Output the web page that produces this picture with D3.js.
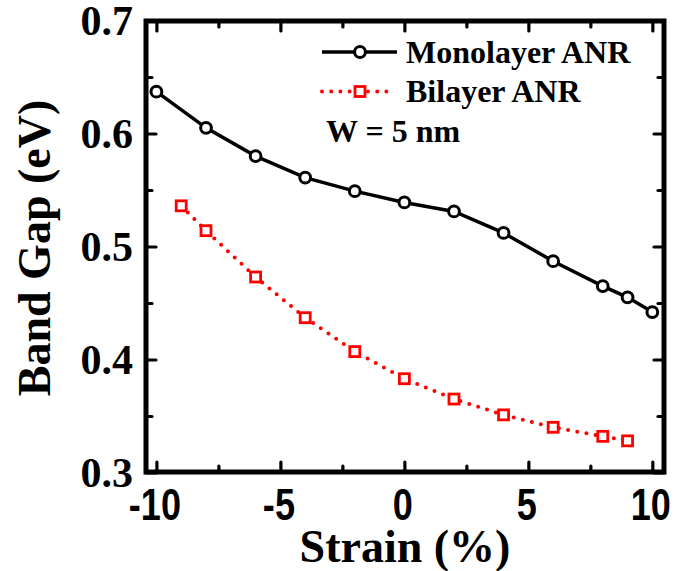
<!DOCTYPE html>
<html>
<head>
<meta charset="utf-8">
<script src="https://cdn.jsdelivr.net/npm/d3@7"></script>
<style>
  html, body { margin: 0; padding: 0; background: #fff; }
  svg { display: block; }
</style>
</head>
<body>
<svg id="chart" width="691" height="571"></svg>
<script>
// ---- data ----
const monoStrain = [-10, -8, -6, -4, -2, 0, 2, 4, 6, 8, 9, 10];
const monoGap    = [0.637, 0.605, 0.580, 0.561, 0.549, 0.539, 0.531, 0.512, 0.487, 0.465, 0.455, 0.442];
const biStrain   = [-9, -8, -6, -4, -2, 0, 2, 4, 6, 8, 9];
const biGap      = [0.536, 0.514, 0.473, 0.437, 0.407, 0.383, 0.365, 0.351, 0.340, 0.332, 0.328];
const xMajor = [-10, -5, 0, 5, 10];
const xMinor = [-7.5, -2.5, 2.5, 7.5];
const yMajor = [0.3, 0.4, 0.5, 0.6, 0.7];
const yMinor = [0.35, 0.45, 0.55, 0.65];
const seriesNames = ["Monolayer ANR", "Bilayer ANR"];
const note = "W = 5 nm";
const xTitle = "Strain (%)";
const yTitle = "Band Gap (eV)";

// ---- layout ----
const L = 146, R = 664, T = 21, B = 472;
const svg = d3.select("#chart");
const x = d3.scaleLinear().domain([-10.42, 10.47]).range([L, R]);
const y = d3.scaleLinear().domain([0.3, 0.7]).range([B + 0.5, T - 0.5]);

const serif = "'Liberation Serif', 'Times New Roman', serif";
const sans = "'Liberation Sans', Arial, sans-serif";

function styleAxis(g) {
  g.select(".domain").remove();
  g.selectAll(".tick line").attr("stroke", "#000").attr("stroke-width", 3.2).attr("stroke-linecap", "round");
}

// bottom major with labels
svg.append("g").attr("transform", `translate(0,${B})`)
  .call(d3.axisBottom(x).tickValues(xMajor).tickSize(-10).tickPadding(10).tickFormat(d3.format("d")))
  .call(styleAxis)
  .call(g => g.selectAll(".tick text")
    .attr("font-family", sans).attr("font-weight", "bold").attr("font-size", 44)
    .attr("fill", "#000").attr("y", 0).attr("dy", 0)
    .attr("transform", "translate(-2,48) scale(0.82,1)")
    .text(d => d < 0 ? "-" + Math.abs(d) : d));
svg.append("g").attr("transform", `translate(0,${B})`)
  .call(d3.axisBottom(x).tickValues(xMinor).tickSize(-6).tickFormat(""))
  .call(styleAxis);
// top
svg.append("g").attr("transform", `translate(0,${T})`)
  .call(d3.axisTop(x).tickValues(xMajor).tickSize(-10).tickFormat(""))
  .call(styleAxis);
svg.append("g").attr("transform", `translate(0,${T})`)
  .call(d3.axisTop(x).tickValues(xMinor).tickSize(-6).tickFormat(""))
  .call(styleAxis);
// left major with labels
svg.append("g").attr("transform", `translate(${L},0)`)
  .call(d3.axisLeft(y).tickValues(yMajor).tickSize(-10).tickPadding(13).tickFormat(d3.format(".1f")))
  .call(styleAxis)
  .call(g => g.selectAll(".tick text")
    .attr("font-family", serif).attr("font-weight", "bold").attr("font-size", 42)
    .attr("fill", "#000").attr("x", -13).attr("dy", 14));
svg.append("g").attr("transform", `translate(${L},0)`)
  .call(d3.axisLeft(y).tickValues(yMinor).tickSize(-6).tickFormat(""))
  .call(styleAxis);
// right
svg.append("g").attr("transform", `translate(${R},0)`)
  .call(d3.axisRight(y).tickValues(yMajor).tickSize(-10).tickFormat(""))
  .call(styleAxis);
svg.append("g").attr("transform", `translate(${R},0)`)
  .call(d3.axisRight(y).tickValues(yMinor).tickSize(-6).tickFormat(""))
  .call(styleAxis);

// frame
svg.append("rect").attr("x", L).attr("y", T).attr("width", R - L).attr("height", B - T)
  .attr("fill", "none").attr("stroke", "#000").attr("stroke-width", 5);

// titles
svg.append("text").attr("x", 405).attr("y", 562).attr("text-anchor", "middle")
  .attr("font-family", serif).attr("font-weight", "bold").attr("font-size", 46).text(xTitle);
svg.append("text").attr("transform", "translate(50,248) rotate(-90)").attr("text-anchor", "middle")
  .attr("font-family", serif).attr("font-weight", "bold").attr("font-size", 46).text(yTitle);

// series
const mono = monoStrain.map((s, i) => [s, monoGap[i]]);
const bi = biStrain.map((s, i) => [s, biGap[i]]);
const line = d3.line().x(d => x(d[0])).y(d => y(d[1]));

svg.append("path").datum(bi).attr("d", line).attr("fill", "none")
  .attr("stroke", "#ff0000").attr("stroke-width", 4).attr("stroke-linecap", "round")
  .attr("stroke-dasharray", "0 9.3");
svg.append("g").selectAll("rect").data(bi).join("rect")
  .attr("x", d => x(d[0]) - 5).attr("y", d => y(d[1]) - 5)
  .attr("width", 10).attr("height", 10)
  .attr("fill", "#fff").attr("stroke", "#ff0000").attr("stroke-width", 2.8);

svg.append("path").datum(mono).attr("d", line).attr("fill", "none")
  .attr("stroke", "#000").attr("stroke-width", 3.5);
svg.append("g").selectAll("circle").data(mono).join("circle")
  .attr("cx", d => x(d[0])).attr("cy", d => y(d[1])).attr("r", 5.4)
  .attr("fill", "#fff").attr("stroke", "#000").attr("stroke-width", 3);

// legend
const lg = svg.append("g");
lg.append("line").attr("x1", 322).attr("x2", 397).attr("y1", 52).attr("y2", 52)
  .attr("stroke", "#000").attr("stroke-width", 3.5);
lg.append("circle").attr("cx", 360).attr("cy", 52).attr("r", 5.4)
  .attr("fill", "#fff").attr("stroke", "#000").attr("stroke-width", 3);
lg.append("text").attr("x", 406).attr("y", 63).attr("font-family", serif).attr("font-weight", "bold")
  .attr("font-size", 32).text(seriesNames[0]);

lg.append("line").attr("x1", 322).attr("x2", 391).attr("y1", 91.5).attr("y2", 91.5)
  .attr("stroke", "#ff0000").attr("stroke-width", 4).attr("stroke-linecap", "round")
  .attr("stroke-dasharray", "0 9.2");
lg.append("rect").attr("x", 355).attr("y", 86.5).attr("width", 10).attr("height", 10)
  .attr("fill", "#fff").attr("stroke", "#ff0000").attr("stroke-width", 2.8);
lg.append("text").attr("x", 406).attr("y", 102).attr("font-family", serif).attr("font-weight", "bold")
  .attr("font-size", 32).text(seriesNames[1]);

lg.append("text").attr("x", 326).attr("y", 142).attr("font-family", serif).attr("font-weight", "bold")
  .attr("font-size", 32).text(note);
</script>
</body>
</html>
